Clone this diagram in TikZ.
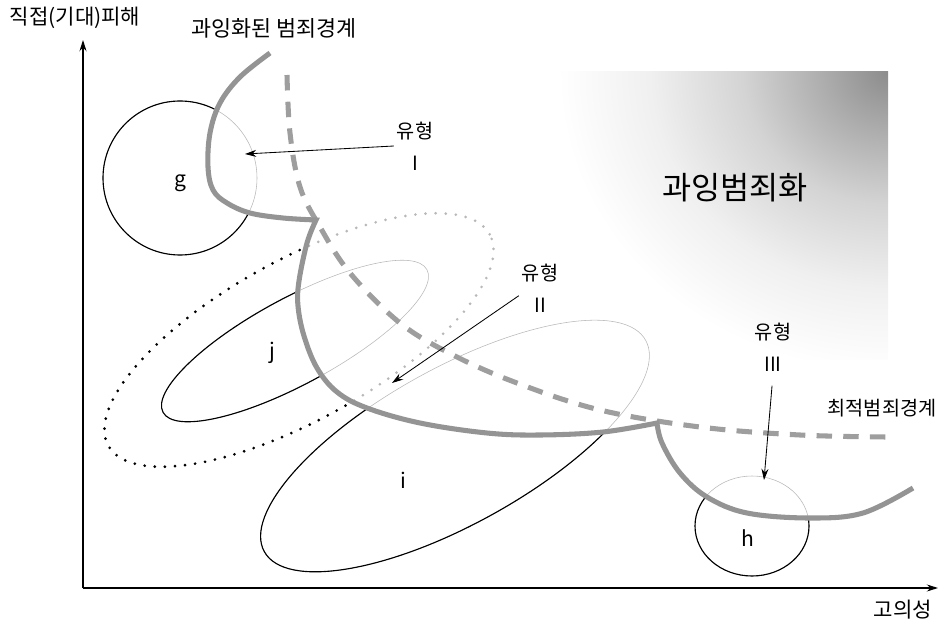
\documentclass[tikz,border=0pt]{standalone}
\usepackage{fontspec}
\setmainfont{Noto Sans CJK KR}
\usepackage{tikz}
\usetikzlibrary{arrows.meta,positioning}

\pgfdeclareradialshading{zonefade}{\pgfpointorigin}{color(0bp)=(black!45); color(5bp)=(black!32); color(11bp)=(black!17); color(18bp)=(black!6); color(25bp)=(white); color(50bp)=(white)}

\tikzset{
    lbl/.style={font=\fontsize{15}{18}\selectfont, inner sep=1pt},
    typelbl/.style={font=\fontsize{14}{23}\selectfont, align=center, inner sep=2pt},
    fence/.style={line width=3.6pt, draw=black!42, line join=miter},
    optfence/.style={line width=3.6pt, draw=black!38, dash pattern=on 11pt off 8pt},
    pointer/.style={->, line width=0.6pt},
    axis/.style={->, line width=0.8pt},
    faint/.style={draw=black!28, line width=0.4pt},
    solidset/.style={draw=black, line width=0.8pt},
    dotset/.style={line width=2.1pt, line cap=round, dash pattern=on 0pt off 7.2pt},
}

% the over-criminalised boundary, three arcs meeting in cusps
\newcommand{\fencepath}{%
    -- plot[smooth, tension=0.6] coordinates {(270,573) (240,549) (220,523) (210,493) (208,459) (213,436) (227,423) (250,413) (283,408) (316,406)}
    -- plot[smooth, tension=0.6] coordinates {(316,406) (307,383) (299,345) (298,320) (304,290) (317,258) (337,234) (367,218) (420,203) (487,193) (540,191) (603,194) (657,203)}
    -- plot[smooth, tension=0.6] coordinates {(657,203) (662,183) (680,153) (707,129) (747,113) (810,108) (863,113) (913,138)}}

% circles and ellipses g, h, j, i and the dotted one
\newcommand{\drawsets}[2]{%
    \draw[#1] (180,448) circle (77);
    \draw[#1] (752,100) ellipse (57 and 50);
    \draw[#1, rotate around={28.4:(295,285)}] (295,285) ellipse (150 and 43);
    \draw[#1, rotate around={29:(455,180)}] (455,180) ellipse (218 and 78);
    \draw[#2, rotate around={29:(299,286)}] (299,286) ellipse (218 and 80);
}

\begin{document}
\begin{tikzpicture}[x=0.025cm, y=0.025cm, >={Stealth[length=8pt,width=5pt]}]
    \useasboundingbox (0,0) rectangle (947,626);

    % shaded zone
    \begin{scope}
        \clip (440,266) rectangle (888,554);
        \shade[shading=zonefade] (888,554) ellipse (330 and 300);
    \end{scope}

    \drawsets{faint}{faint, dotset}
    \begin{scope}
        \clip (0,626) -- (270,626) -- (270,573) \fencepath -- (947,138) -- (947,0) -- (0,0) -- cycle;
        \drawsets{solidset}{dotset}
    \end{scope}

    \draw[optfence] plot[smooth, tension=0.6] coordinates {(287,551) (290,493) (300,439) (320,399) (350,353) (400,303) (453,271) (517,243) (600,216) (700,199) (800,191) (888,189)};
    \draw[fence] (270,573) \fencepath;

    % axes
    \coordinate (origin) at (83,38);
    \coordinate (ytop) at (83,586);
    \coordinate (xend) at (938,38);
    \draw[axis] (origin) -- (ytop);
    \draw[axis] (origin) -- (xend);

    \node[lbl] (dmg) at (75,608) {직접(기대)피해};
    \node[lbl] (intent) at (903,16) {고의성};
    \node[lbl, font=\fontsize{15.5}{18}\selectfont] (overline) at (274,598) {과잉화된 범죄경계};
    \node[lbl, font=\fontsize{14}{18}\selectfont] (optline) at (882,218) {최적범죄경계};
    \node[lbl, font=\fontsize{22.5}{26}\selectfont] (zone) at (735,438) {과잉범죄화};

    \node[lbl] (g) at (180,443) {g};
    \node[lbl] (j) at (272,273) {j};
    \node[lbl] (i) at (403,146) {i};
    \node[lbl] (h) at (748,88) {h};

    \node[typelbl] (typeI) at (415,480) {유형\\I};
    \node[typelbl] (typeII) at (540,338) {유형\\II};
    \node[typelbl] (typeIII) at (773,279) {유형\\III};

    \coordinate (gtip) at (245,472);
    \coordinate (jtip) at (392,243);
    \coordinate (htip) at (764,146);
    \draw[pointer] (typeI.west) -- (gtip);
    \draw[pointer] (typeII.200) -- (jtip);
    \draw[pointer, shorten <=8pt] (typeIII.south) -- (htip);
\end{tikzpicture}
\end{document}
